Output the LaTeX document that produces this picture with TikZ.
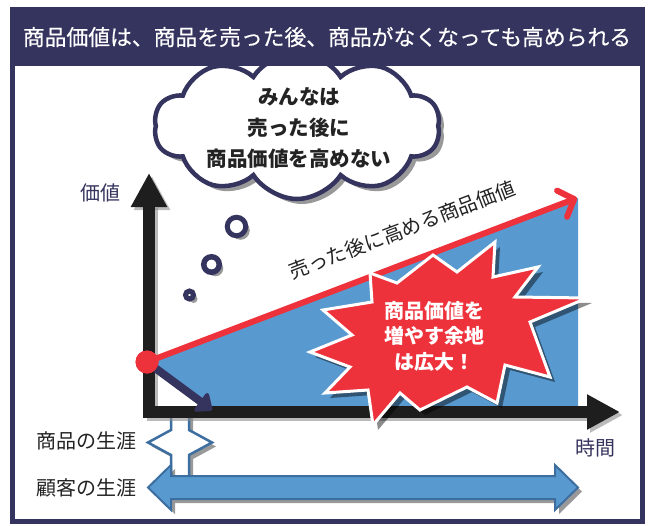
\documentclass[tikz,border=0pt]{standalone}
\usepackage{fontspec}
\setmainfont{Noto Sans CJK JP}
\newfontfamily\titlefont{Noto Sans CJK JP}[FakeBold=0.4]
\usetikzlibrary{arrows.meta,shapes.symbols,shadows}
\definecolor{navy}{RGB}{52,52,94}
\definecolor{redc}{RGB}{238,50,60}
\definecolor{bluef}{RGB}{88,154,208}
\definecolor{blues}{RGB}{60,110,160}
\definecolor{axisc}{RGB}{30,30,30}
\definecolor{txt}{RGB}{35,35,35}
\tikzset{
  shad/.style={drop shadow={shadow xshift=4pt,shadow yshift=-4pt,fill=black,opacity=.4}},
  ring/.style={draw=navy,fill=white,shad},
  lbl/.style={text=txt,font=\fontsize{20}{24}\selectfont,inner sep=0pt},
  axlbl/.style={text=navy,font=\fontsize{20}{24}\selectfont,inner sep=0pt},
  boldtxt/.style={font=\bfseries\fontsize{20.5}{31}\selectfont,align=center,inner sep=0pt},
}
\begin{document}
\begin{tikzpicture}[x=1pt,y=-1pt]
\useasboundingbox (0,0) rectangle (652,525);
% frame
\fill[white] (12.5,63) rectangle (642.5,521.5);
% cloud
\node[cloud, cloud puffs=10, cloud puff arc=115, aspect=2.1,
      minimum width=286pt, minimum height=146pt, draw=navy, line width=4.5pt,
      fill=white, drop shadow={shadow xshift=5pt,shadow yshift=-5pt,fill=black,opacity=.4}]
      (cloud) at (297,126) {};
\node[boldtxt, text=txt] (cloudtxt) at (299,128) {みんなは\\売った後に\\商品価値を高めない};
% title bar and border
\fill[navy] (10,7) rectangle (645,63);
\draw[navy, line width=5pt] (12.5,63) rectangle (642.5,521.5);
\node[text=white, font=\titlefont\fontsize{21.8}{26}\selectfont, inner sep=0pt] (title) at (327,37)
  {商品価値は、商品を売った後、商品がなくなっても高められる};
% thought bubbles
\node[circle, ring, line width=5pt, minimum size=18.5pt, inner sep=0pt] (b1) at (236.5,226.5) {};
\node[circle, ring, line width=5.5pt, minimum size=15.5pt, inner sep=0pt] (b2) at (211.5,264.5) {};
\node[circle, ring, line width=5pt, minimum size=8pt, inner sep=0pt] (b3) at (189.5,295) {};
% blue region
\coordinate (ytop) at (149,173);
\coordinate (orig) at (149,412);
\coordinate (xend) at (620,412);
\coordinate (redtip) at (577,198);
\coordinate (navtip) at (212,410);
\fill[bluef] (149,362) -- (578,198) -- (578,412) -- (211,412) -- cycle;
% red line label
\node[lbl, rotate=20.8] (vlabel) at (402,230) {売った後に高める商品価値};
% hollow double arrow
\draw[blues, line width=2.5pt, fill=white, line join=miter, shad]
  (171,414) -- (171,430) -- (148,442.5) -- (171,455) -- (171,479) -- (189,479)
  -- (189,455) -- (212,442.5) -- (189,430) -- (189,414) -- cycle;
% axes
\draw[black!45, opacity=.6, line width=11pt, line join=miter,
      {Triangle[length=34pt,width=34pt]}-{Triangle[length=33pt,width=33pt]}]
  ([shift={(3,3)}]ytop) -- ([shift={(3,3)}]orig) -- ([shift={(3,3)}]xend);
\draw[axisc, line width=11.5pt, line join=miter,
      {Triangle[length=34pt,width=34pt]}-{Triangle[length=33pt,width=33pt]}]
  (ytop) -- (orig) -- (xend);
% red dot and arrows
\node[circle, fill=redc, minimum size=23pt, inner sep=0pt] (dot) at (147,362) {};
\draw[redc, line width=6pt, line cap=round,
      -{Straight Barb[round,length=13pt,width=28pt]}] (dot.center) -- (redtip);
\draw[navy, line width=8pt,
      -{Triangle[round,length=16pt,width=26pt]}] (dot.center) -- (navtip);
\node[circle, fill=redc, minimum size=23pt, inner sep=0pt] at (dot) {};
% star burst
\draw[white, line width=3pt, fill=redc, line join=miter,
      drop shadow={shadow xshift=5pt,shadow yshift=-5pt,fill=black,opacity=.45}]
  (370,273) -- (397,283) -- (433,255) -- (457,272) -- (495,242) -- (493,277)
  -- (538,267) -- (515,297) -- (587,298) -- (530,322) -- (550,377) -- (505,365)
  -- (497,403) -- (467,387) -- (420,410) -- (400,393) -- (373,425) -- (368,390)
  -- (325,393) -- (350,367) -- (310,352) -- (352,335) -- (323,310) -- (372,302) -- cycle;
\node[boldtxt, text=white, font=\bfseries\fontsize{20}{25.5}\selectfont] (startxt) at (434,336)
  {商品価値を\\増やす余地\\は広大！};
% blue double arrow
\draw[blues, line width=2pt, fill=bluef, line join=miter, shad]
  (148,487.5) -- (171,465) -- (171,476) -- (555,476) -- (555,465) -- (578,487.5)
  -- (555,510) -- (555,499) -- (171,499) -- (171,510) -- cycle;
% labels
\node[axlbl] (yl) at (100,193) {価値};
\node[axlbl] (xl) at (595,448) {時間};
\node[lbl, anchor=east] (l1) at (137,441) {商品の生涯};
\node[lbl, anchor=east] (l2) at (137,488) {顧客の生涯};
\end{tikzpicture}
\end{document}
